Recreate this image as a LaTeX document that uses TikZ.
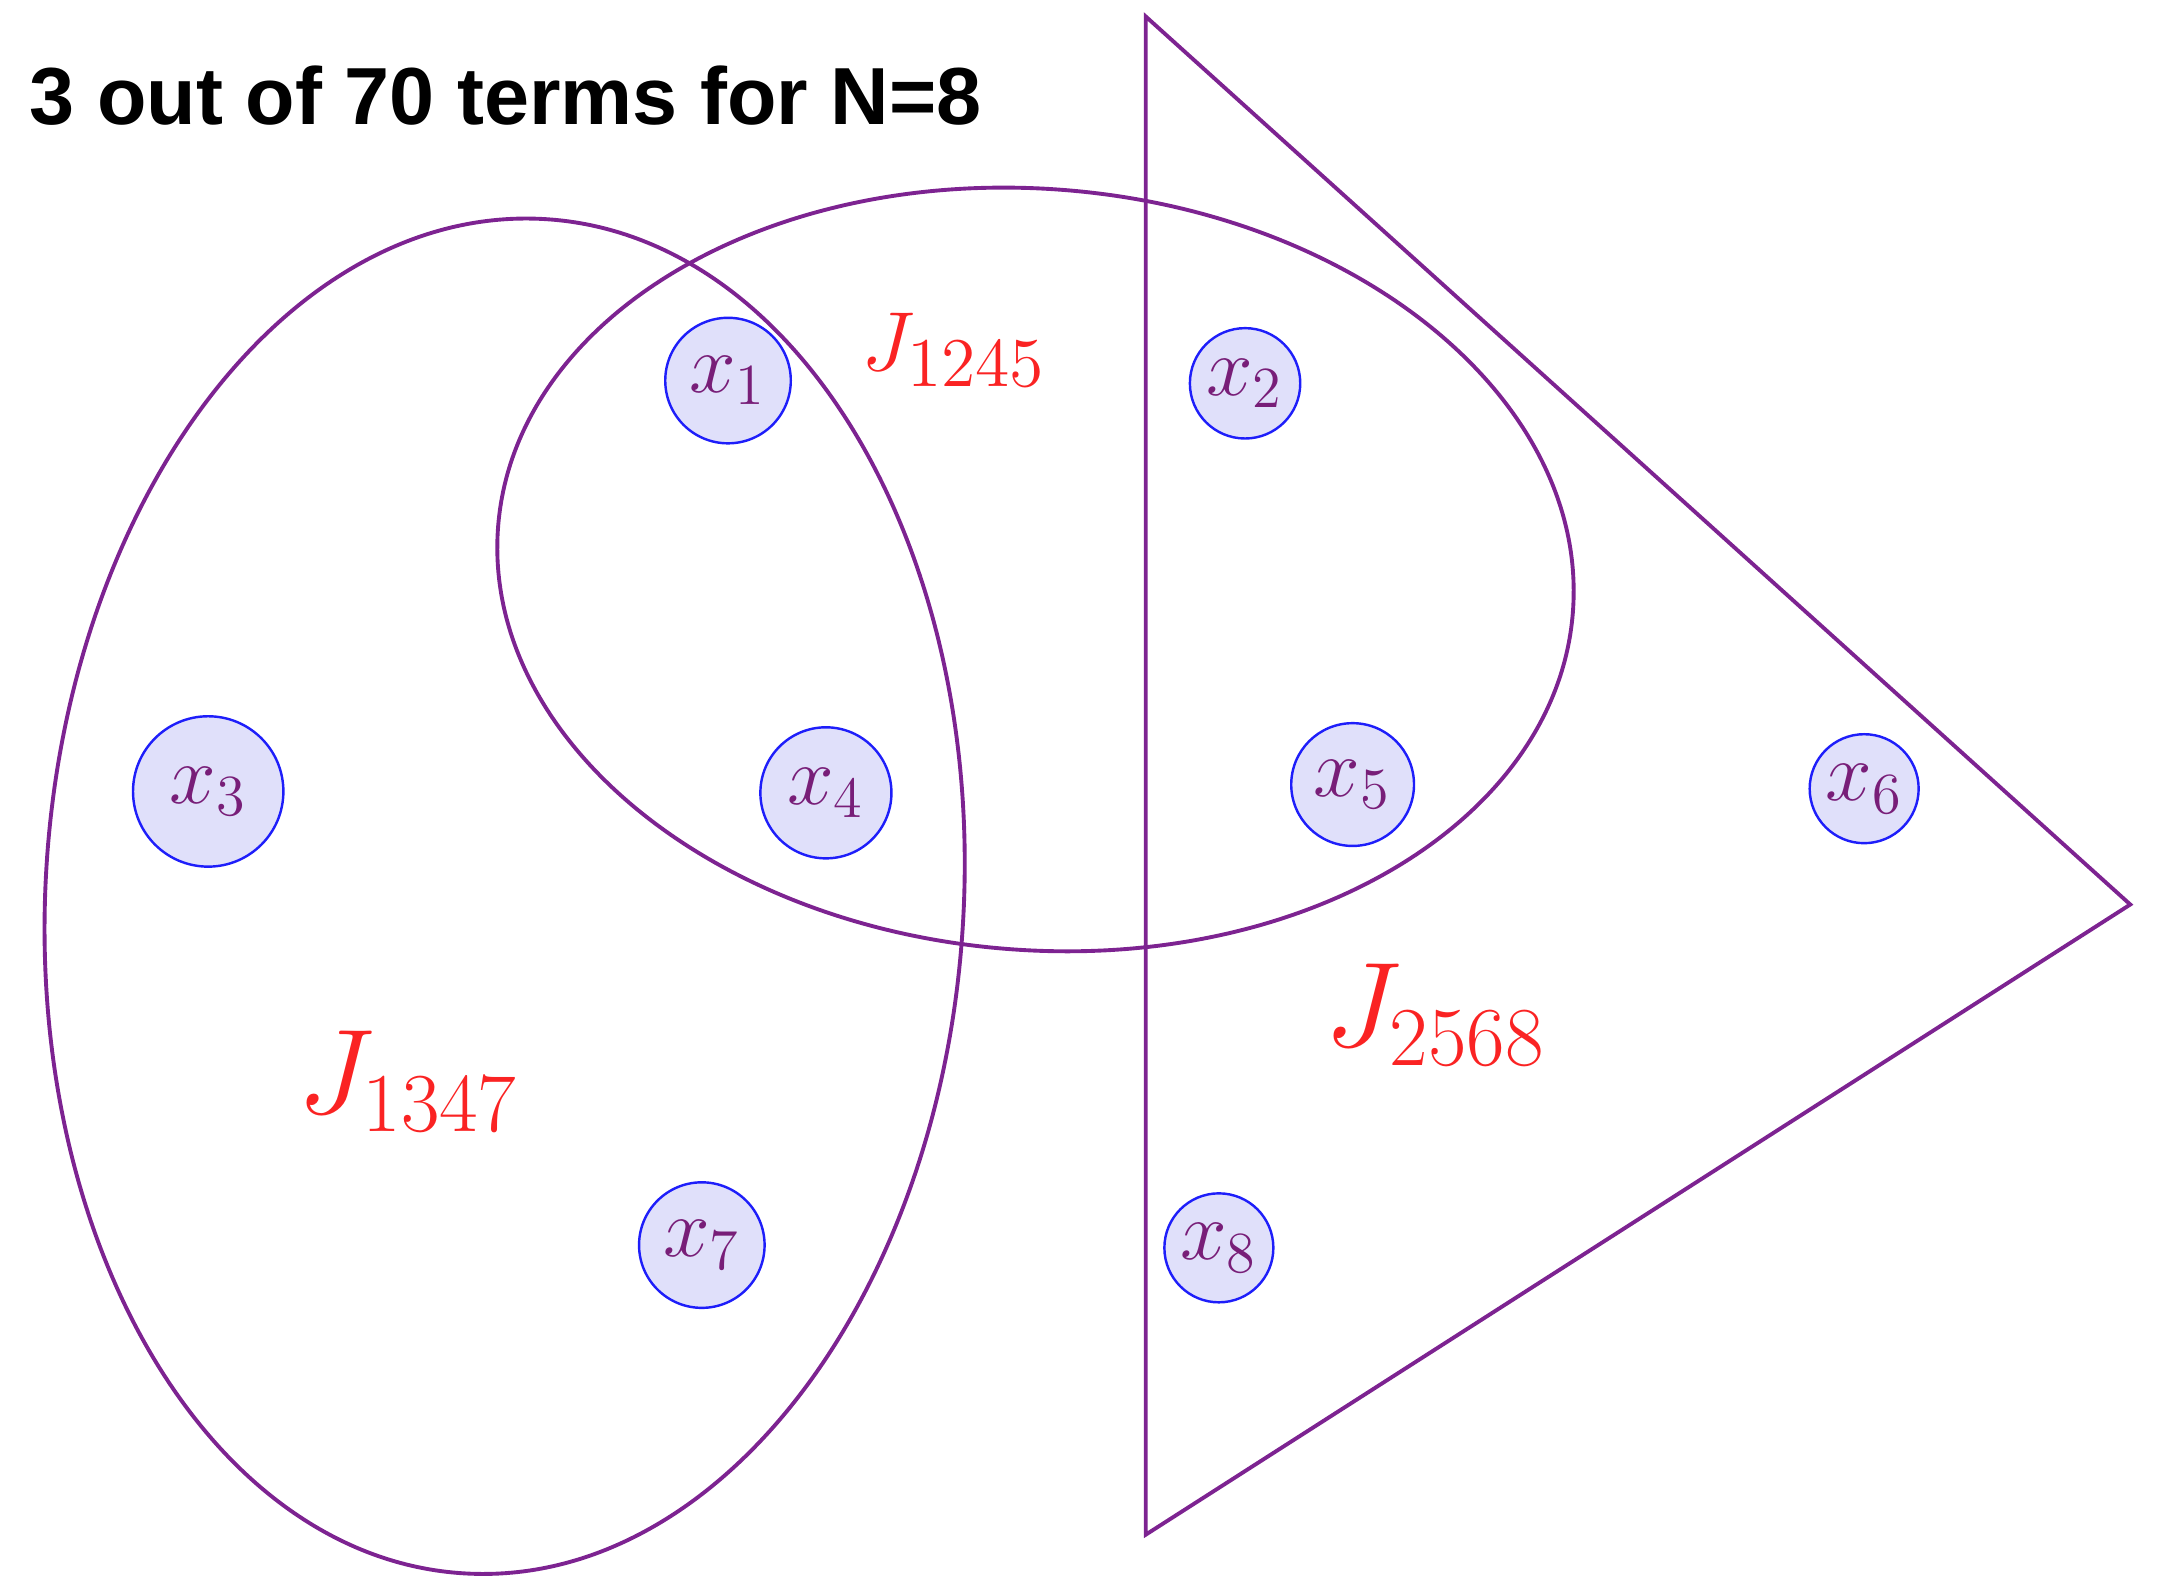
\documentclass[tikz,border=0pt]{standalone}
\usepackage{fontspec}
\newfontfamily\headfont{Liberation Sans}
\definecolor{setline}{RGB}{125,35,145}
\definecolor{ptfill}{RGB}{224,224,250}
\definecolor{ptline}{RGB}{30,30,250}
\definecolor{ptname}{RGB}{120,30,120}
\definecolor{jred}{RGB}{250,35,35}
\tikzset{
  pt/.style={circle, draw=ptline, fill=ptfill, line width=0.5pt, inner sep=0pt, text=ptname, font=\LARGE},
  jlab/.style={text=jred, font=\fontsize{27}{32}\selectfont},
  setedge/.style={draw=setline, line width=0.8pt},
}

\begin{document}
\begin{tikzpicture}[x=0.01cm, y=-0.01cm]
  \useasboundingbox (0,0) rectangle (1568,1145);
  \node[anchor=base west, inner sep=0pt, font=\headfont\bfseries\fontsize{16.7}{20}\selectfont] (title) at (21,90) {3 out of 70 terms for N=8};

  % the three sets
  \draw[setedge, rotate around={-3.4:(366,650)}] (366,650) ellipse [x radius=333, y radius=492];
  \draw[setedge, rotate around={-4.7:(751,413)}] (751,413) ellipse [x radius=391, y radius=276];
  \coordinate (ta) at (831,12);
  \coordinate (tb) at (1545,656);
  \coordinate (tc) at (831,1113);
  \draw[setedge] (ta) -- (tb) -- (tc) -- cycle;

  % the points
  \node[pt, minimum size=0.91cm] (x1) at (528,276) {$x_1$};
  \node[pt, minimum size=0.80cm] (x2) at (903,278) {$x_2$};
  \node[pt, minimum size=1.09cm] (x3) at (151,574) {$x_3$};
  \node[pt, minimum size=0.95cm] (x4) at (599,575) {$x_4$};
  \node[pt, minimum size=0.89cm] (x5) at (981,569) {$x_5$};
  \node[pt, minimum size=0.79cm] (x6) at (1352,572) {$x_6$};
  \node[pt, minimum size=0.91cm] (x7) at (509,903) {$x_7$};
  \node[pt, minimum size=0.79cm] (x8) at (884,905) {$x_8$};

  % names of the sets
  \node[jlab, font=\fontsize{19}{23}\selectfont] (j1245) at (692,254) {$J_{1245}$};
  \node[jlab] (j1347) at (296,784) {$J_{1347}$};
  \node[jlab] (j2568) at (1041,736) {$J_{2568}$};
\end{tikzpicture}
\end{document}
